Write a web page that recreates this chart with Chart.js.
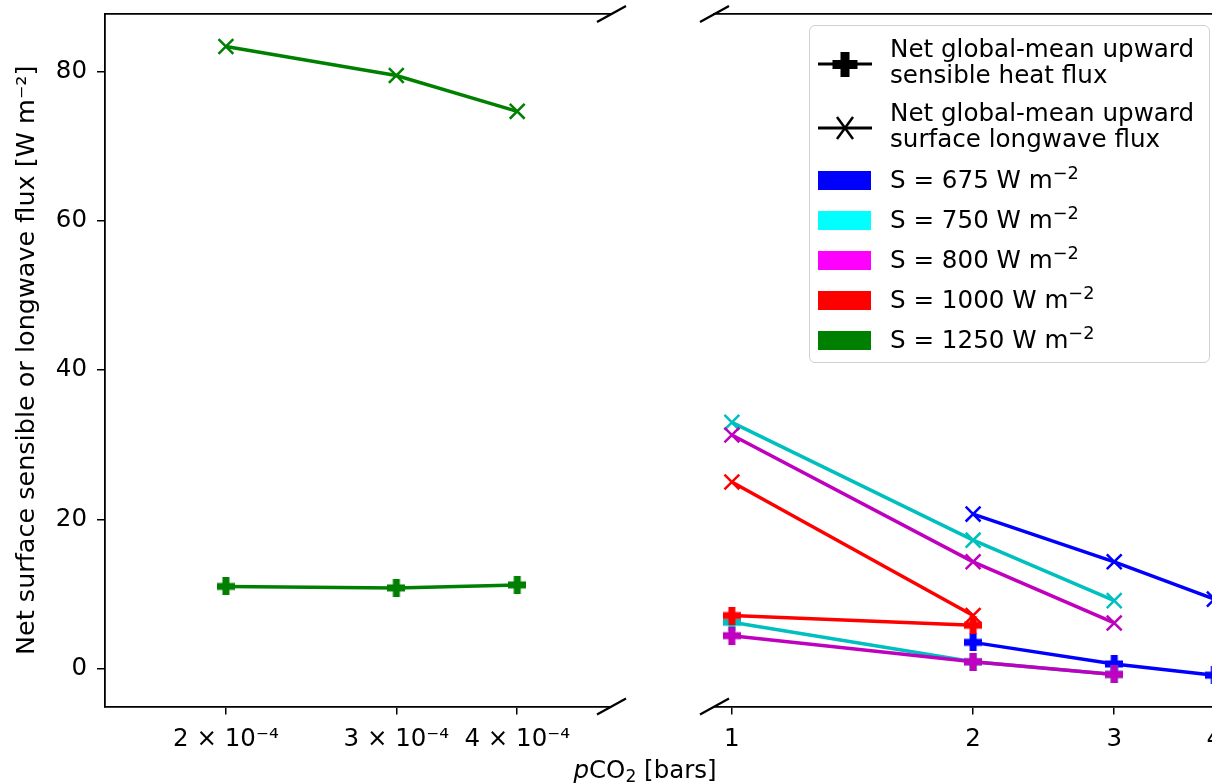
<!DOCTYPE html>
<html>
<head>
<meta charset="utf-8">
<script src="https://cdn.jsdelivr.net/npm/chart.js@4.4.1/dist/chart.umd.min.js"></script>
<style>
  html, body { margin: 0; padding: 0; background: #fff; overflow: hidden; }
  #wrap { position: relative; width: 1212px; height: 784px; overflow: hidden; font-family: "DejaVu Sans", sans-serif; color: #000; }
  #wrap canvas { position: absolute; top: 0; }
  #left { left: 0; }
  #right { left: 640px; }
  #xtitle { position: absolute; left: 520px; width: 250px; top: 756px; text-align: center; font-size: 24.5px; line-height: 28px; }
  #xtitle sub { font-size: 0.7em; vertical-align: -0.25em; line-height: 0; }
  #legend { position: absolute; left: 809px; top: 25px; width: 401px; height: 338px; box-sizing: border-box;
            border: 1.5px solid #d0d0d0; border-radius: 6px; background: rgba(255,255,255,0.85); }
  .lg-text { position: absolute; left: 80px; font-size: 24.6px; line-height: 26px; white-space: nowrap; }
  .lg-text sup { font-size: 0.72em; vertical-align: 0.5em; line-height: 0; }
  .lg-patch { position: absolute; left: 8px; width: 53px; height: 19px; }
  .lg-mark { position: absolute; left: 8px; }
</style>
</head>
<body>
<div id="wrap">
  <canvas id="left" width="640" height="784"></canvas>
  <canvas id="right" width="640" height="784"></canvas>
  <div id="xtitle"><i>p</i>CO<sub>2</sub> [bars]</div>
  <div id="legend"></div>
</div>
<script>
// pCO2 values [bars]
const pco2Low = [2e-4, 3e-4, 4e-4];
const pco2High = [1, 2, 3, 4];

// tick labels
const lowTicks = [2e-4, 3e-4, 4e-4];
const lowTickLabels = ['2 × 10⁻⁴', '3 × 10⁻⁴', '4 × 10⁻⁴'];
const highTicks = [1, 2, 3, 4];
const highTickLabels = ['1', '2', '3', '4'];
const yTicks = [0, 20, 40, 60, 80];

// net global-mean upward sensible heat flux [W m-2] (on pco2High, null = no run)
const sens675 = [null, 3.5, 0.6, -0.9];
const sens750 = [6.2, 0.9, -0.8, null];
const sens800 = [4.4, 0.9, -0.8, null];
const sens1000 = [7.1, 5.8, null, null];
const sens1250 = [11.0, 10.8, 11.2];   // on pco2Low

// net global-mean upward surface longwave flux [W m-2]
const lw675 = [null, 20.7, 14.3, 9.3];
const lw750 = [33.0, 17.2, 9.1, null];
const lw800 = [31.3, 14.3, 6.1, null];
const lw1000 = [25.0, 7.1, null, null];
const lw1250 = [83.4, 79.5, 74.7];     // on pco2Low

const sLabels = ['S = 675 W m⁻²', 'S = 750 W m⁻²', 'S = 800 W m⁻²', 'S = 1000 W m⁻²', 'S = 1250 W m⁻²'];
const lineColors = ['#0000ff', '#00bfbf', '#bf00bf', '#ff0000', '#008000'];
const patchColors = ['#0000ff', '#00ffff', '#ff00ff', '#ff0000', '#008000'];
const markerLabels = ['Net global-mean upward<br>sensible heat flux', 'Net global-mean upward<br>surface longwave flux'];

const FONT = '"DejaVu Sans", sans-serif';
Chart.defaults.font.family = FONT;
Chart.defaults.color = '#000';

// filled plus marker like matplotlib 'P'
function plusMarker(color) {
  const size = 18, arm = 7;
  const c = document.createElement('canvas');
  c.width = size; c.height = size;
  const g = c.getContext('2d');
  g.fillStyle = color;
  const a = (size - arm) / 2;
  g.fillRect(a, 0, arm, size);
  g.fillRect(0, a, size, arm);
  return c;
}

function pts(xs, ys) {
  const out = [];
  ys.forEach((v, i) => { if (v !== null) out.push({x: xs[i], y: v}); });
  return out;
}

function sensSet(xs, ys, ci, order) {
  return {
    data: pts(xs, ys), borderColor: lineColors[ci], backgroundColor: lineColors[ci],
    borderWidth: 3.5, pointStyle: plusMarker(lineColors[ci]), pointRadius: 9, order: order
  };
}
function lwSet(xs, ys, ci, order) {
  return {
    data: pts(xs, ys), borderColor: lineColors[ci], backgroundColor: lineColors[ci],
    borderWidth: 3.5, pointStyle: 'crossRot', pointRadius: 10.5, pointBorderWidth: 2.5, order: order
  };
}

// diagonal marks where the x axis is broken
const breakMarks = {
  id: 'breakMarks',
  afterDraw(chart, args, opts) {
    const {ctx, chartArea} = chart;
    const x = opts.side === 'right' ? chartArea.right : chartArea.left;
    ctx.save();
    ctx.strokeStyle = '#000';
    ctx.lineWidth = 2.2;
    [chartArea.top, chartArea.bottom].forEach(y => {
      ctx.beginPath();
      ctx.moveTo(x - 14, y + 8);
      ctx.lineTo(x + 15, y - 8);
      ctx.stroke();
    });
    ctx.restore();
  }
};

const tickGrid = {display: true, drawOnChartArea: false, drawTicks: true, tickLength: 8, color: '#000', lineWidth: 1.5};
const spine = {display: true, color: '#000', width: 1.8};

function fixSize(prop, value) {
  return function (scale) {
    scale[prop] = value;
    scale.paddingLeft = 0; scale.paddingRight = 0;
    scale.paddingTop = 0; scale.paddingBottom = 0;
  };
}

function makeScales(xMin, xMax, ticks, labels, yWidth, showY) {
  return {
    x: {
      type: 'logarithmic', position: 'bottom', min: xMin, max: xMax,
      afterBuildTicks: s => { s.ticks = ticks.map(v => ({value: v})); },
      afterFit: fixSize('height', 77.5),
      ticks: {
        autoSkip: false, maxRotation: 0, padding: 10, font: {size: 24.5},
        callback: v => { const i = ticks.findIndex(t => Math.abs(t - v) < v * 1e-6); return i >= 0 ? labels[i] : ''; }
      },
      grid: tickGrid, border: spine
    },
    xTop: {
      type: 'linear', position: 'top', min: 0, max: 1,
      afterFit: fixSize('height', 14),
      ticks: {display: false}, grid: {display: false}, border: spine
    },
    y: {
      type: 'linear', position: 'left', min: -5.1, max: 87.75,
      afterBuildTicks: s => { s.ticks = yTicks.map(v => ({value: v})); },
      afterFit: fixSize('width', yWidth),
      ticks: {display: showY, padding: 10, font: {size: 24.5}},
      grid: showY ? tickGrid : {display: false},
      border: showY ? spine : {display: false},
      title: {
        display: showY, text: 'Net surface sensible or longwave flux [W m⁻²]',
        font: {size: 25.5}, padding: {top: 12, bottom: 0}
      }
    }
  };
}

const baseOptions = {
  responsive: false, maintainAspectRatio: false, animation: false,
  plugins: {legend: {display: false}, tooltip: {enabled: false}}
};

new Chart(document.getElementById('left').getContext('2d'), {
  type: 'line',
  data: {
    datasets: [
      sensSet(pco2Low, sens1250, 4, 1),
      lwSet(pco2Low, lw1250, 4, 1)
    ]
  },
  options: Object.assign({}, baseOptions, {
    layout: {padding: {left: 0, right: 29, top: 0, bottom: 0}},
    scales: makeScales(1.5e-4, 5e-4, lowTicks, lowTickLabels, 105, true),
    plugins: Object.assign({}, baseOptions.plugins, {breakMarks: {side: 'right'}})
  }),
  plugins: [breakMarks]
});

new Chart(document.getElementById('right').getContext('2d'), {
  type: 'line',
  data: {
    datasets: [
      sensSet(pco2High, sens675, 0, 8), lwSet(pco2High, lw675, 0, 8),
      sensSet(pco2High, sens750, 1, 6), lwSet(pco2High, lw750, 1, 6),
      sensSet(pco2High, sens800, 2, 4), lwSet(pco2High, lw800, 2, 4),
      sensSet(pco2High, sens1000, 3, 2), lwSet(pco2High, lw1000, 3, 2)
    ]
  },
  options: Object.assign({}, baseOptions, {
    layout: {padding: {left: 0, right: 47, top: 0, bottom: 0}},
    scales: makeScales(0.95, 4.22, highTicks, highTickLabels, 74, false),
    plugins: Object.assign({}, baseOptions.plugins, {breakMarks: {side: 'left'}})
  }),
  plugins: [breakMarks]
});

// legend drawn inside the right panel
const legend = document.getElementById('legend');
let html = '';
// marker entries
html += '<svg class="lg-mark" style="top:24px" width="54" height="28">' +
  '<line x1="0" y1="14" x2="54" y2="14" stroke="#000" stroke-width="3"/>' +
  '<path d="M22.5 2h9v8h8v9h-8v8h-9v-8h-8v-9h8z" fill="#000"/></svg>';
html += '<div class="lg-text" style="top:10px">' + markerLabels[0] + '</div>';
html += '<svg class="lg-mark" style="top:88px" width="54" height="28">' +
  '<line x1="0" y1="14" x2="54" y2="14" stroke="#000" stroke-width="3"/>' +
  '<path d="M19 3L35 25M35 3L19 25" stroke="#000" stroke-width="2.5"/></svg>';
html += '<div class="lg-text" style="top:74px">' + markerLabels[1] + '</div>';
sLabels.forEach((lab, i) => {
  const top = 141 + i * 40;
  html += '<div class="lg-patch" style="top:' + (top + 4) + 'px;background:' + patchColors[i] + '"></div>';
  html += '<div class="lg-text" style="top:' + top + 'px">' + lab.replace('⁻²', '<sup>\u22122</sup>') + '</div>';
});
legend.innerHTML = html;
</script>
</body>
</html>
